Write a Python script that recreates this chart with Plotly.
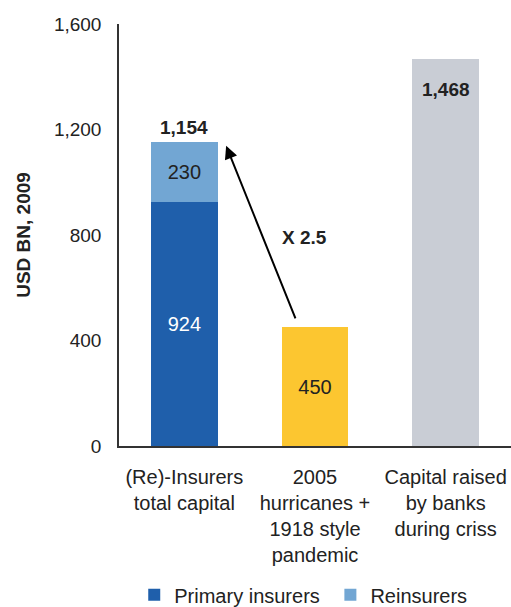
import plotly.graph_objects as go

categories = ["(Re)-Insurers<br>total capital", "2005<br>hurricanes +<br>1918 style<br>pandemic", "Capital raised<br>by banks<br>during criss"]
primary_insurers = [924]
reinsurers = [230]
hurricanes = [450]
banks = [1468]
total_capital = [1154]
multiplier_label = "X 2.5"
y_ticks = [0, 400, 800, 1200, 1600]
y_ticktext = ["0", "400", "800", "1,200", "1,600"]

DARK = "#222222"
FONT = "Liberation Sans, Arial, sans-serif"
BW = 0.51

fig = go.Figure()
fig.add_trace(go.Bar(x=[0], y=primary_insurers, name="Primary insurers\u00a0", width=BW,
                     marker=dict(color="#1F5FAB", line=dict(width=0)),
                     text=[f"{v:,}" for v in primary_insurers], textposition="inside",
                     insidetextanchor="middle", textfont=dict(color="white", size=20, family=FONT)))
fig.add_trace(go.Bar(x=[0], y=reinsurers, name="Reinsurers", width=BW,
                     marker=dict(color="#72A6D3", line=dict(width=0)),
                     text=[f"{v:,}" for v in reinsurers], textposition="inside",
                     insidetextanchor="middle", textfont=dict(color=DARK, size=20, family=FONT)))
fig.add_trace(go.Bar(x=[1], y=hurricanes, name="Hurricanes", width=BW, showlegend=False,
                     marker=dict(color="#FCC630", line=dict(width=0)),
                     text=[f"{v:,}" for v in hurricanes], textposition="inside",
                     insidetextanchor="middle", textfont=dict(color=DARK, size=20, family=FONT)))
fig.add_trace(go.Bar(x=[2], y=banks, name="Banks", width=BW, showlegend=False,
                     marker=dict(color="#C9CDD5", line=dict(width=0))))

annotations = [
    dict(x=0, y=total_capital[0], xref="x", yref="y", text=f"<b>{total_capital[0]:,}</b>",
         showarrow=False, yanchor="bottom", yshift=2, font=dict(size=19, color=DARK, family=FONT)),
    dict(x=2, y=banks[0], xref="x", yref="y", text=f"<b>{banks[0]:,}</b>",
         showarrow=False, yanchor="middle", yshift=-31, font=dict(size=19, color=DARK, family=FONT)),
    dict(x=0.32, y=1138, xref="x", yref="y", ax=0.855, ay=478, axref="x", ayref="y",
         text="", showarrow=True, arrowhead=2, arrowsize=1.3, arrowwidth=2, arrowcolor="black"),
    dict(x=0.92, y=789, xref="x", yref="y", text=f"<b>{multiplier_label}</b>",
         showarrow=False, font=dict(size=19, color=DARK, family=FONT)),
]

fig.update_layout(
    barmode="stack",
    width=511, height=607,
    margin=dict(l=119, r=0, t=24, b=161, autoexpand=False),
    paper_bgcolor="white", plot_bgcolor="white",
    font=dict(family=FONT, size=20, color=DARK),
    showlegend=True,
    legend=dict(orientation="h", x=0.47, xanchor="center", y=0.02, yanchor="middle",
                yref="container", font=dict(size=20, color=DARK), traceorder="normal",
                itemwidth=30),
    annotations=annotations,
)
fig.update_xaxes(range=[-0.5, 2.5], tickvals=[0, 1, 2], ticktext=categories,
                 showline=True, linecolor="#333333", linewidth=1.5, showgrid=False,
                 zeroline=False, ticks="", ticklabelstandoff=12, automargin=False,
                 tickfont=dict(size=20, color=DARK))
fig.update_yaxes(range=[0, 1600], tickvals=y_ticks, ticktext=y_ticktext,
                 showline=True, linecolor="#333333", linewidth=1.5, showgrid=False,
                 zeroline=False, ticks="", ticklabelstandoff=12, automargin=False,
                 tickfont=dict(size=19, color=DARK),
                 title=dict(text="<b>USD BN, 2009</b>", font=dict(size=19, color=DARK), standoff=18))

fig.write_html("out.html", config={"displayModeBar": False},
               post_script="document.body.style.margin='0';")
